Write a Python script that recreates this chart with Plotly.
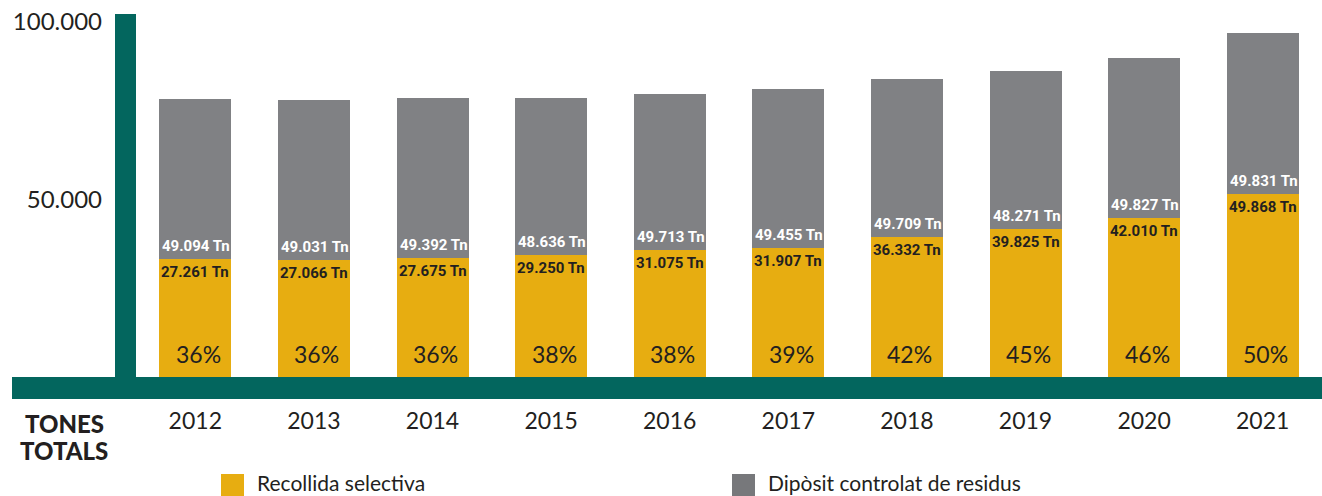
import plotly.graph_objects as go

# ---- data ----
years = ["2012", "2013", "2014", "2015", "2016", "2017", "2018", "2019", "2020", "2021"]
# label values (tonnes) printed on the chart
selectiva_tn = [27261, 27066, 27675, 29250, 31075, 31907, 36332, 39825, 42010, 49868]
diposit_tn = [49094, 49031, 49392, 48636, 49713, 49455, 49709, 48271, 49827, 49831]
percent = [36, 36, 36, 38, 38, 39, 42, 45, 46, 50]
selectiva_bar = [33240, 32960, 33610, 34370, 35770, 36340, 39440, 41690, 44870, 51550]
diposit_bar = [45070, 45070, 44990, 44230, 43940, 44790, 44510, 44510, 44990, 45350]
y_ticks = [50000, 100000]
y_ticktext = ["50.000", "100.000"]

# ---- style ----
W, H = 1322, 496
L, R, T, B = 136, 0, 0, 119
PW, PH = W - L - R, H - T - B
GREEN = "#03665E"
YELLOW = "#E7AD11"
GREY = "#808184"
DARK = "#231F20"
MAIN_FONT = "Lato"
COND_FONT = "Roboto"


def xp(px):
    return (px - L) / PW


def yp(py):
    return (H - B - py) / PH


def fmt(v):
    return f"{v:,}".replace(",", ".") + " Tn"


fig = go.Figure()
fig.add_trace(go.Bar(x=years, y=selectiva_bar, name="Recollida selectiva",
                     marker=dict(color=YELLOW, line=dict(width=0)), width=0.607,
                     hoverinfo="skip"))
fig.add_trace(go.Bar(x=years, y=diposit_bar, name="Dipòsit controlat de residus",
                     marker=dict(color=GREY, line=dict(width=0)), width=0.607,
                     hoverinfo="skip"))

annotations = []
for i, (s_bar, s_lab, d_lab, pc) in enumerate(zip(selectiva_bar, selectiva_tn, diposit_tn, percent)):
    annotations.append(dict(x=i, y=s_bar, xref="x", yref="y", text=fmt(d_lab),
                            showarrow=False, yshift=13, xshift=1,
                            font=dict(family=COND_FONT, size=15, color="white", weight="bold")))
    annotations.append(dict(x=i, y=s_bar, xref="x", yref="y", text=fmt(s_lab),
                            showarrow=False, yshift=-13, xshift=0,
                            font=dict(family=COND_FONT, size=15, color=DARK, weight="bold")))
    annotations.append(dict(x=i, y=0, xref="x", yref="y", text=f"{pc}%",
                            showarrow=False, yshift=23, xshift=3,
                            font=dict(family=MAIN_FONT, size=23, color=DARK)))

annotations += [
    dict(x=xp(64), y=yp(423.5), xref="paper", yref="paper", text="TONES", showarrow=False,
         xanchor="center", yanchor="middle",
         font=dict(family=MAIN_FONT, size=24, color=DARK, weight=900)),
    dict(x=xp(64), y=yp(450), xref="paper", yref="paper", text="TOTALS", showarrow=False,
         xanchor="center", yanchor="middle",
         font=dict(family=MAIN_FONT, size=24, color=DARK, weight=900)),
    dict(x=xp(256), y=yp(482), xref="paper", yref="paper", text="Recollida selectiva",
         showarrow=False, xanchor="left", yanchor="middle", borderpad=0,
         font=dict(family=MAIN_FONT, size=21, color=DARK)),
    dict(x=xp(767), y=yp(482), xref="paper", yref="paper", text="Dipòsit controlat de residus",
         showarrow=False, xanchor="left", yanchor="middle", borderpad=0,
         font=dict(family=MAIN_FONT, size=21, color=DARK)),
]

shapes = [
    # horizontal base band
    dict(type="rect", xref="paper", yref="paper", x0=xp(12), x1=xp(W), y0=yp(399), y1=yp(377),
         fillcolor=GREEN, line=dict(width=0), layer="above"),
    # vertical axis bar
    dict(type="rect", xref="paper", yref="paper", x0=xp(115), x1=xp(136), y0=yp(377), y1=yp(14),
         fillcolor=GREEN, line=dict(width=0), layer="above"),
    # legend swatches
    dict(type="rect", xref="paper", yref="paper", x0=xp(221), x1=xp(244), y0=yp(497), y1=yp(474),
         fillcolor=YELLOW, line=dict(width=0)),
    dict(type="rect", xref="paper", yref="paper", x0=xp(732), x1=xp(755), y0=yp(497), y1=yp(474),
         fillcolor="#77787B", line=dict(width=0)),
]

fig.update_layout(
    width=W, height=H,
    margin=dict(l=L, r=R, t=T, b=B, pad=0),
    barmode="stack",
    paper_bgcolor="white", plot_bgcolor="white",
    showlegend=False,
    annotations=annotations,
    shapes=shapes,
    xaxis=dict(type="category", range=[-0.5, 9.5], showgrid=False, zeroline=False,
               showline=False, ticks="", ticklabelstandoff=28,
               tickfont=dict(family=MAIN_FONT, size=23, color=DARK)),
    yaxis=dict(range=[0, PH / 3.55 * 1000], tickvals=y_ticks, ticktext=y_ticktext,
               showgrid=False, zeroline=False, showline=False, ticks="",
               ticklabelstandoff=33,
               tickfont=dict(family=MAIN_FONT, size=24, color=DARK)),
)

fig.write_html("out.html", config={"displayModeBar": False},
               post_script="document.body.style.margin='0';document.body.style.overflow='hidden';")
